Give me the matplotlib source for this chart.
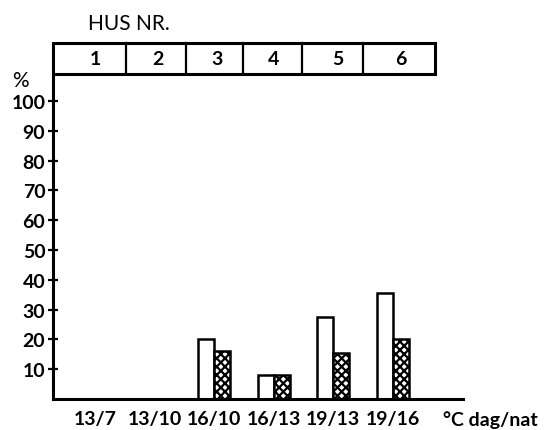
import matplotlib
matplotlib.use("Agg")
import matplotlib.pyplot as plt
import numpy as np
from matplotlib.patches import Rectangle

plt.rcParams['font.family'] = ['Lato', 'DejaVu Sans']
plt.rcParams['hatch.linewidth'] = 1.6

houses = ["1", "2", "3", "4", "5", "6"]
temps = ["13/7", "13/10", "16/10", "16/13", "19/13", "19/16"]
white_vals = [0, 0, 20, 8, 27.5, 35.5]
dotted_vals = [0, 0, 16, 8, 15.5, 20]
yticks = [10, 20, 30, 40, 50, 60, 70, 80, 90, 100]

W, H = 547, 431
fig = plt.figure(figsize=(W / 100, H / 100), dpi=100)
ax = fig.add_axes([53 / W, (H - 400) / H, (463 - 53) / W, (400 - 44) / H])

x = np.arange(1, len(temps) + 1)
bw = 0.27
for xi, wv, dv in zip(x, white_vals, dotted_vals):
    if wv > 0:
        ax.bar(xi - bw / 2, wv, width=bw, facecolor="white", edgecolor="black", linewidth=1.8)
    if dv > 0:
        ax.bar(xi + bw / 2, dv, width=bw, facecolor="white", edgecolor="black", linewidth=1.8, hatch="xxxx")

ax.set_xlim(0.294, 7.18)
ax.set_ylim(0, 119.5)

# house-number box
box_bottom, box_top = 109, 119.5
dividers = [1.52, 2.53, 3.49, 4.48, 5.50]
left, right = 0.294, 6.71
ax.add_patch(Rectangle((left, box_bottom), right - left, box_top - box_bottom,
                       fill=False, edgecolor="black", linewidth=2.2, clip_on=False))
for d in dividers:
    ax.plot([d, d], [box_bottom, box_top], color="black", linewidth=1.6, clip_on=False)
label_pos = [1.0, 2.06, 3.05, 4.0, 5.07, 6.13]
for lp, h in zip(label_pos, houses):
    ax.text(lp, (box_bottom + box_top) / 2, h, ha="center", va="center",
            fontsize=14, fontweight="bold", clip_on=False)

for s in ["top", "right"]:
    ax.spines[s].set_visible(False)
ax.spines["left"].set_bounds(0, box_bottom)
ax.spines["left"].set_linewidth(2.2)
ax.spines["bottom"].set_linewidth(2.2)

ax.set_yticks(yticks)
ax.set_yticklabels([str(v) for v in yticks], fontsize=14, fontweight="bold")
ax.tick_params(axis="y", direction="inout", length=7, width=1.6, pad=2)
ax.set_xticks(x)
ax.set_xticklabels(temps, fontsize=14, fontweight="bold")
ax.tick_params(axis="x", length=0, pad=8)

fig.text(20 / W, 1 - 81 / H, "%", ha="center", va="center", fontsize=15)
fig.text(88 / W, 1 - 24 / H, "HUS NR.", ha="left", va="center", fontsize=15)
fig.text(443 / W, 1 - 420 / H, "°C dag/nat", ha="left", va="center", fontsize=14, fontweight="bold")

fig.savefig("out.png", dpi=100, facecolor="white")
